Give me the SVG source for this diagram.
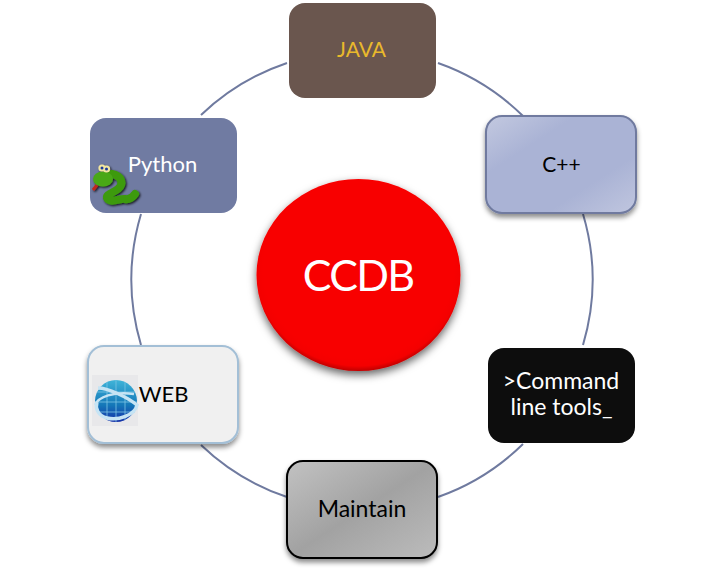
<svg xmlns="http://www.w3.org/2000/svg" width="724" height="571" viewBox="0 0 724 571">
<style>
text{font-family:"Lato","Noto Sans","Liberation Sans",sans-serif;font-size:22px;text-anchor:middle;fill:#000}
.ring{fill:none;stroke:#6f7a9f;stroke-width:2}
</style>
<defs>
<filter id="sh" x="-20%" y="-20%" width="140%" height="140%"><feDropShadow dx="0" dy="3.5" stdDeviation="2.5" flood-color="#000" flood-opacity=".45"/></filter>
<filter id="shc" x="-20%" y="-20%" width="140%" height="140%"><feDropShadow dx="0" dy="4" stdDeviation="4" flood-color="#000" flood-opacity=".6"/></filter>
<filter id="sns" x="-20%" y="-20%" width="140%" height="140%"><feDropShadow dx="1.2" dy="1.2" stdDeviation=".8" flood-color="#000" flood-opacity=".85"/></filter>
<linearGradient id="gc" x1="0" y1="0" x2="1" y2="1"><stop offset="0" stop-color="#c3c9e0"/><stop offset=".3" stop-color="#aab3d5"/><stop offset=".7" stop-color="#aab3d5"/><stop offset="1" stop-color="#c0c6df"/></linearGradient>
<linearGradient id="gm" x1="0" y1="0" x2="1" y2="1"><stop offset="0" stop-color="#c2c2c2"/><stop offset=".5" stop-color="#a2a2a2"/><stop offset="1" stop-color="#bcbcbc"/></linearGradient>
<radialGradient id="gr" cx=".5" cy=".47" r=".53"><stop offset=".88" stop-color="#f80000"/><stop offset=".95" stop-color="#f40000"/><stop offset="1" stop-color="#c00000"/></radialGradient>
<linearGradient id="gg" x1="0" y1="0" x2="0" y2="1"><stop offset="0" stop-color="#3fb4d8"/><stop offset=".6" stop-color="#1477b8"/><stop offset="1" stop-color="#1430a8"/></linearGradient>
</defs>
<g id="connectors">
<path class="ring" d="M438 63A230 230 0 0 1 523 116"/>
<path class="ring" d="M583 214A230 230 0 0 1 583 345"/>
<path class="ring" d="M523 444A230 230 0 0 1 438 497"/>
<path class="ring" d="M287 497A230 230 0 0 1 201 445"/>
<path class="ring" d="M141 345A230 230 0 0 1 141 214"/>
<path class="ring" d="M201 115A230 230 0 0 1 287 63"/>
</g>
<g id="node-java">
<rect x="289" y="3" width="147" height="95" rx="16" fill="#6a564e"/>
<text x="361.500" y="57" style="fill:#e9b92c;font-size:21px">JAVA</text>
</g>
<g id="node-cpp">
<rect x="486" y="116" width="150" height="97" rx="16" fill="url(#gc)" stroke="#6f7a9f" stroke-width="2" filter="url(#sh)"/>
<text x="561.500" y="172" style="font-size:21px">C++</text>
</g>
<g id="node-cmd">
<rect x="488" y="348" width="147" height="95" rx="16" fill="#0d0d0d"/>
<text x="561" y="389" style="fill:#fff;font-size:23px">&gt;Command</text>
<text x="561.500" y="415" style="fill:#fff;font-size:23px">line tools_</text>
</g>
<g id="node-maintain">
<rect x="287" y="461" width="150" height="97" rx="16" fill="url(#gm)" stroke="#000" stroke-width="2" filter="url(#sh)"/>
<text x="362" y="517" style="font-size:23px">Maintain</text>
</g>
<g id="node-web">
<rect x="88" y="346" width="150" height="97" rx="16" fill="#f0f0f0" stroke="#a3bfd6" stroke-width="2" filter="url(#sh)"/>
<rect x="92" y="375" width="46" height="51" fill="#e8e8ea"/>
<circle cx="116" cy="401" r="21" fill="url(#gg)"/>
<path d="M107 382V420M116 380V422M125 382V420M97 392H135M95 402H137M97 412H135" stroke="#7cc4e4" stroke-width=".8" fill="none"/>
<path d="M98 388C108 388 127 397 137 405C135 415 118 421 107 418C98 416 95 408 97 402" fill="none" stroke="#c6e4f4" stroke-width="3.500"/>
<path d="M95 405C98 397 114 391 134 394" fill="none" stroke="#c6e4f4" stroke-width="2.500"/>
<text x="163.500" y="402">WEB</text>
</g>
<g id="node-python">
<rect x="90" y="118" width="147" height="95" rx="16" fill="#707ba2"/>
<text x="162.500" y="172" style="fill:#fff">Python</text>
<g filter="url(#sns)">
<path d="M93 190L97 185" stroke="#c0281c" stroke-width="3" fill="none"/>
<path d="M112 174C122 176 124 184 118 189C113 193 106 194 107 198C110 204 121 198 125 199C129 200 133 197 135 194" fill="none" stroke="#3d9a10" stroke-width="8" stroke-linecap="round" stroke-linejoin="round"/>
<ellipse cx="103" cy="179" rx="10" ry="7.500" fill="#4aa816"/>
<circle cx="102" cy="168" r="3.600" fill="#f2e6a0"/><circle cx="106.500" cy="169" r="3.600" fill="#f2e6a0"/>
<circle cx="102" cy="168" r="1.500" fill="#1c3a9c"/><circle cx="106.500" cy="169" r="1.500" fill="#1c3a9c"/>
</g>
</g>
<g id="node-ccdb">
<ellipse cx="358.500" cy="275" rx="102" ry="96" fill="url(#gr)" filter="url(#shc)"/>
<text x="358" y="291" style="font-size:43px;fill:#fff;letter-spacing:-1.700px">CCDB</text>
</g>
</svg>
